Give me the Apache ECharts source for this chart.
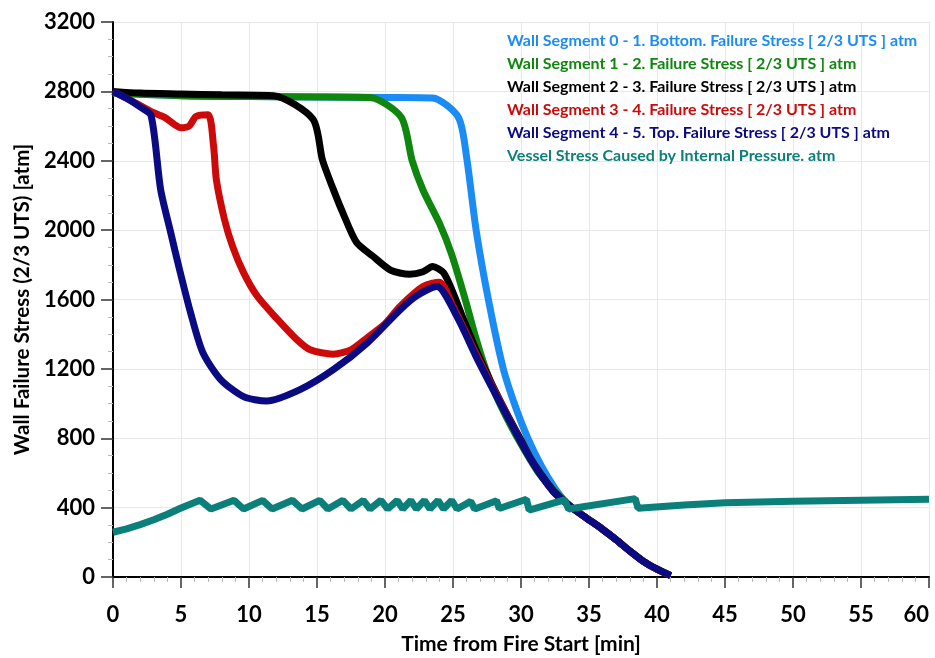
<!DOCTYPE html>
<html>
<head>
<meta charset="utf-8">
<script src="https://cdn.jsdelivr.net/npm/echarts@6/dist/echarts.min.js"></script>
<style>
  html, body { margin: 0; padding: 0; background: #fff; }
  #chart { width: 935px; height: 658px; }
</style>
</head>
<body>
<div id="chart"></div>
<script>
// series names (legend order)
var names = [
  'Wall Segment 0 - 1. Bottom. Failure Stress [ 2/3 UTS ] atm',
  'Wall Segment 1 - 2. Failure Stress [ 2/3 UTS ] atm',
  'Wall Segment 2 - 3. Failure Stress [ 2/3 UTS ] atm',
  'Wall Segment 3 - 4. Failure Stress [ 2/3 UTS ] atm',
  'Wall Segment 4 - 5. Top. Failure Stress [ 2/3 UTS ] atm',
  'Vessel Stress Caused by Internal Pressure. atm'
];
var colors = ['#1c8cf5', '#0f870f', '#000000', '#cc0a0a', '#0a0a82', '#0b7f7a'];

// [time min, stress atm]
var seg0 = [[0,2790],[5,2775],[10,2770],[15,2768],[20,2765],[23.5,2762],[25.4,2650],[26,2420],[26.7,2000],[27.6,1600],[28.7,1200],[29.6,980],[30.5,800],[31.5,640],[32.5,510],[33.2,440],[34,385],[35,330],[36,275],[37,215],[38,150],[39,90],[40,45],[41,8]];
var seg1 = [[0,2790],[5,2775],[10,2770],[15,2768],[18.9,2765],[21.2,2650],[22,2400],[22.8,2230],[24,2040],[24.9,1860],[25.9,1600],[26.6,1400],[27.4,1200],[28.2,1040],[29.2,880],[30.2,740],[31.3,600],[32.4,500],[33.5,415],[34,385],[35,330],[36,275],[37,215],[38,150],[39,90],[40,45],[41,8]];
var seg2 = [[0,2800],[2,2790],[5,2785],[8,2780],[11.8,2775],[14.7,2640],[15.4,2405],[16.2,2235],[16.9,2100],[17.9,1930],[19.1,1850],[20.4,1770],[21.8,1745],[22.8,1760],[23.5,1790],[24.3,1755],[25,1640],[25.8,1480],[26.8,1290],[28,1090],[29,935],[30,790],[30.7,685],[31.5,590],[32.4,495],[33.5,415],[34,385],[35,330],[36,275],[37,215],[38,150],[39,90],[40,45],[41,8]];
var seg3 = [[0,2800],[1.5,2740],[2.9,2680],[3.8,2650],[4.5,2610],[5,2590],[5.6,2600],[6.1,2655],[7,2665],[7.4,2480],[7.6,2290],[8.2,2060],[8.8,1905],[9.6,1755],[10.6,1620],[12.1,1485],[13.5,1370],[14.5,1310],[16.2,1285],[17.5,1310],[18.7,1380],[20,1460],[21.1,1560],[22.8,1675],[24,1700],[25,1560],[26.8,1270],[29,930],[30.7,682],[32.4,490],[33.5,415],[34,385],[35,330],[36,275],[37,215],[38,150],[39,90],[40,45],[41,8]];
var seg4 = [[0,2800],[1,2760],[2,2710],[2.8,2660],[3.5,2235],[4.2,2000],[4.9,1770],[5.7,1525],[6.6,1295],[7.9,1140],[9.6,1040],[11.3,1015],[13.75,1080],[16.2,1195],[18.7,1350],[21.1,1540],[22.3,1620],[23.8,1675],[25.3,1500],[26.8,1255],[29,925],[30.7,680],[32.4,490],[33.5,415],[34,385],[35,330],[36,275],[37,215],[38,150],[39,90],[40,45],[41,8]];
var vessel = [[0,258],[1,278],[2,302],[3,330],[4,362],[5,398],[6.4,442],[7.2,392],[8.9,442],[9.6,392],[11,442],[11.7,392],[13.2,442],[13.9,392],[15.2,442],[15.8,392],[16.9,442],[17.5,392],[18.4,442],[18.9,392],[19.7,442],[20.2,392],[20.9,442],[21.3,392],[21.9,442],[22.3,392],[22.9,442],[23.3,392],[23.9,442],[24.3,392],[24.9,442],[25.3,392],[26.3,436],[26.6,392],[28.2,440],[28.4,395],[30.4,448],[30.6,385],[33.2,445],[33.5,392],[38.4,452],[38.6,397],[42,415],[45,428],[50,437],[55,443],[60,448]];

var seriesData = [seg0, seg1, seg2, seg3, seg4, vessel];

var chart = echarts.init(document.getElementById('chart'));
var fontFam = 'Lato, "Open Sans", sans-serif';

var series = seriesData.map(function (d, i) {
  return {
    name: names[i],
    type: 'line',
    data: d,
    showSymbol: false,
    smooth: i < 5 ? 0.25 : false,
    lineStyle: { width: 7, color: colors[i] },
    itemStyle: { color: colors[i] },
    z: 2 + i
  };
});

var option = {
  animation: false,
  backgroundColor: '#fff',
  grid: { left: 113, right: 6, top: 22, bottom: 81, containLabel: false, outerBoundsMode: 'none' },
  legend: {
    orient: 'vertical',
    left: 497,
    top: 28,
    icon: 'none',
    itemWidth: 0,
    itemHeight: 16,
    itemGap: 7,
    selectedMode: false,
    data: names.map(function (n, i) {
      return { name: n, textStyle: { color: colors[i] } };
    }),
    textStyle: { fontFamily: fontFam, fontWeight: 'bold', fontSize: 16, padding: 0 }
  },
  xAxis: {
    type: 'value',
    min: 0, max: 60, interval: 5,
    name: 'Time from Fire Start [min]',
    nameLocation: 'middle',
    nameGap: 57,
    nameTextStyle: { fontFamily: fontFam, fontWeight: 'bold', fontSize: 21, color: '#000' },
    axisLine: { onZero: false, lineStyle: { color: '#000', width: 2 } },
    axisTick: { show: true, length: 11, lineStyle: { color: '#333', width: 1.5 } },
    minorTick: { show: true, splitNumber: 5, length: 5, lineStyle: { color: '#bbb' } },
    axisLabel: {
      fontFamily: fontFam, fontWeight: 'bold', fontSize: 22, color: '#000', margin: 27,
      alignMaxLabel: 'right'
    },
    splitLine: { show: true, lineStyle: { color: '#e8e8ec', width: 1 } }
  },
  yAxis: {
    type: 'value',
    min: 0, max: 3200, interval: 400,
    name: 'Wall Failure Stress (2/3 UTS) [atm]',
    nameLocation: 'middle',
    nameGap: 80,
    nameTextStyle: { fontFamily: fontFam, fontWeight: 'bold', fontSize: 20.5, color: '#000' },
    axisLine: { show: true, lineStyle: { color: '#000', width: 2 } },
    axisTick: { show: true, length: 12, lineStyle: { color: '#333', width: 1.5 } },
    minorTick: { show: true, splitNumber: 4, length: 5, lineStyle: { color: '#bbb' } },
    axisLabel: {
      fontFamily: fontFam, fontWeight: 'bold', fontSize: 22, color: '#000', margin: 18,
      formatter: function (v) { return String(v); }
    },
    splitLine: { show: true, lineStyle: { color: '#e8e8ec', width: 1 } }
  },
  series: series
};

chart.setOption(option);
</script>
</body>
</html>
